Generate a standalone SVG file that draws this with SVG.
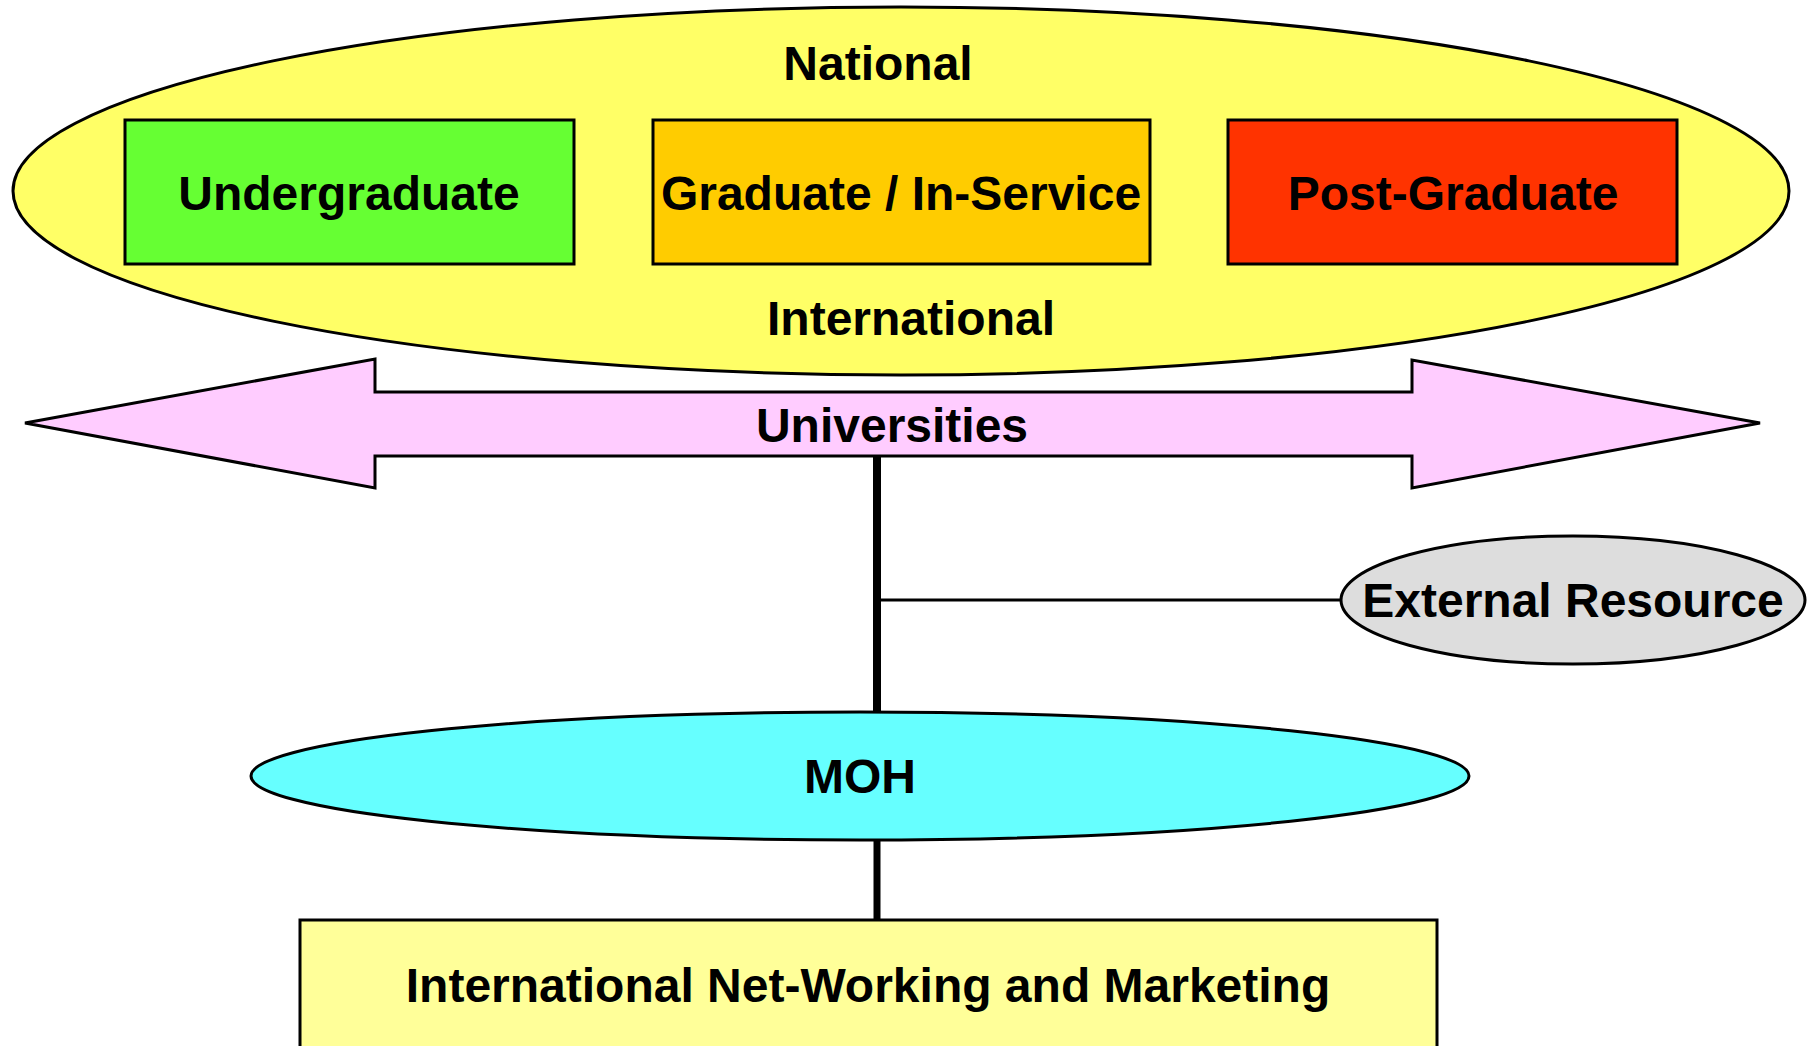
<svg xmlns="http://www.w3.org/2000/svg" width="1816" height="1046" viewBox="0 0 1816 1046">
<style>
.s{stroke:#000;stroke-width:3}
.t{font-family:"Liberation Sans",Arial,sans-serif;font-weight:bold;font-size:48px;fill:#000;text-anchor:middle}
.c{stroke:#000;fill:none}
</style>
<rect width="1816" height="1046" fill="#fff"/>
<g id="national-international">
<ellipse class="s" cx="901" cy="191" rx="888" ry="184" fill="#FFFF66"/>
<text class="t" x="878" y="80">National</text>
<text class="t" x="911" y="335">International</text>
</g>
<g id="undergraduate">
<rect class="s" x="125" y="120" width="449" height="144" fill="#66FF33"/>
<text class="t" x="349" y="210">Undergraduate</text>
</g>
<g id="graduate">
<rect class="s" x="653" y="120" width="497" height="144" fill="#FFCC00"/>
<text class="t" x="901" y="210">Graduate / In-Service</text>
</g>
<g id="postgraduate">
<rect class="s" x="1228" y="120" width="449" height="144" fill="#FF3300"/>
<text class="t" x="1453" y="210">Post-Graduate</text>
</g>
<g id="universities">
<polygon class="s" points="25,423 375,359 375,392 1412,392 1412,360 1760,423 1412,488 1412,456 375,456 375,488" fill="#FFCCFF"/>
<text class="t" x="892" y="442">Universities</text>
</g>
<g id="connectors">
<line class="c" x1="877" y1="456" x2="877" y2="712" stroke-width="8"/>
<line class="c" x1="880" y1="600" x2="1341" y2="600" stroke-width="3"/>
<line class="c" x1="877" y1="840" x2="877" y2="920" stroke-width="7"/>
</g>
<g id="external-resource">
<ellipse class="s" cx="1573" cy="600" rx="232" ry="64" fill="#DDDDDD"/>
<text class="t" x="1573" y="617">External Resource</text>
</g>
<g id="moh">
<ellipse class="s" cx="860" cy="776" rx="609" ry="64" fill="#66FFFF"/>
<text class="t" x="860" y="793">MOH</text>
</g>
<g id="networking">
<rect class="s" x="300" y="920" width="1137" height="140" fill="#FFFF99"/>
<text class="t" x="868" y="1002">International Net-Working and Marketing</text>
</g>
</svg>
